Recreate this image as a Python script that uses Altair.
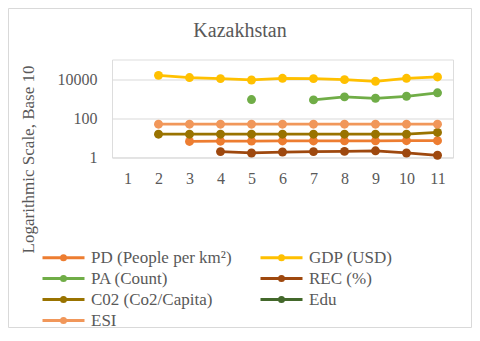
import altair as alt
import pandas as pd

title_text = "Kazakhstan"
x_vals = [1, 2, 3, 4, 5, 6, 7, 8, 9, 10, 11]
series = ["PD (People per km²)", "GDP (USD)", "PA (Count)", "REC (%)",
          "C02 (Co2/Capita)", "Edu", "ESI"]
colors = ["#ED7D31", "#FFC000", "#70AD47", "#9E480E", "#997300", "#43682B", "#F1975A"]

pd_vals = [None, None, 6.6, 6.8, 6.9, 7.0, 7.0, 7.1, 7.1, 7.2, 7.2]
gdp_vals = [None, 15500, 12000, 10600, 9000, 11000, 10600, 9400, 7700, 11000, 12900]
pa_vals = [None, None, None, None, 900, None, 870, 1240, 1050, 1330, 2000]
rec_vals = [None, None, None, 2.0, 1.7, 1.9, 2.0, 2.05, 2.2, 1.7, 1.3]
co2_vals = [None, 15.5, 15.5, 15.5, 15.5, 15.5, 15.5, 15.5, 15.5, 15.5, 19.0]
edu_vals = [None, None, None, None, None, None, None, None, None, None, None]
esi_vals = [None, 50, 50, 50, 50, 50, 50, 50, 50, 50, 50]
y_ticks = [1, 100, 10000]

all_vals = [pd_vals, gdp_vals, pa_vals, rec_vals, co2_vals, edu_vals, esi_vals]
rows = []
for s, vals in zip(series, all_vals):
    for x, v in zip(x_vals, vals):
        rows.append({"series": s, "x": x, "value": v})
df = pd.DataFrame(rows)

FONT = "Liberation Serif, Times New Roman, serif"
GREY = "#595959"
sym_path = "M-2.1,0L2.1,0M-0.2,0A0.2,0.2,0,1,1,0.2,0A0.2,0.2,0,1,1,-0.2,0Z"

X = alt.X("x:O", axis=alt.Axis(title=None, labelAngle=0, ticks=False, domain=False,
                               labelPadding=25.8, labelBaseline="alphabetic",
                               labelFontSize=16, labelColor=GREY, labelFont=FONT, grid=False))
Y = alt.Y("value:Q",
          scale=alt.Scale(type="log", domain=[1, 100000], nice=False),
          axis=alt.Axis(values=y_ticks, format="d", grid=True, gridColor="#D9D9D9", gridWidth=1,
                        domain=False, ticks=False, labelPadding=15, labelFontSize=16,
                        labelColor=GREY, labelFont=FONT, labelBaseline="middle",
                        title="Logarithmic Scale, Base 10", titleFontSize=17, titleFont=FONT,
                        titleColor=GREY, titleFontWeight="normal", titleX=-79, titleY=99.5,
                        titleAngle=270, titleAlign="center", titleBaseline="alphabetic"))

color_leg = alt.Color("series:N", scale=alt.Scale(domain=series, range=colors),
                      legend=alt.Legend(title=None, orient="none", legendX=-60, legendY=186.5,
                                        direction="horizontal",
                                        columns=2, columnPadding=22, rowPadding=1,
                                        symbolType=sym_path, symbolSize=400, symbolStrokeWidth=3,
                                        labelFontSize=17, labelFont=FONT, labelColor=GREY,
                                        labelOffset=16, padding=0))
color_nol = alt.Color("series:N", scale=alt.Scale(domain=series, range=colors), legend=None)

base = alt.Chart(df)
lines = base.mark_line(strokeWidth=2.75, invalid="break-paths-show-domains").encode(
    x=X, y=Y, color=color_leg)
points = base.transform_filter("isValid(datum.value)").mark_point(
    filled=True, size=80, opacity=1).encode(x=X, y=Y, color=color_nol)

one = alt.Chart(pd.DataFrame({"t": [title_text]}))
frame = one.mark_rect(filled=False, stroke="#D9D9D9", strokeWidth=1).encode(
    x=alt.value(-103.5), x2=alt.value(359.5), y=alt.value(-51), y2=alt.value(268))
title = one.mark_text(font=FONT, fontSize=20, color=GREY, align="center",
                      baseline="alphabetic").encode(
    text="t:N", x=alt.value(128), y=alt.value(-22.2))

chart = alt.layer(frame, title, lines, points).properties(
    width=341, height=98,
    autosize=alt.AutoSizeParams(type="none"),
    padding={"left": 104, "top": 51.5, "right": 19, "bottom": 170.5},
).configure_view(strokeWidth=0).configure(background="white", font=FONT)

chart.save("out.html", embed_options={"renderer": "svg", "actions": False})
